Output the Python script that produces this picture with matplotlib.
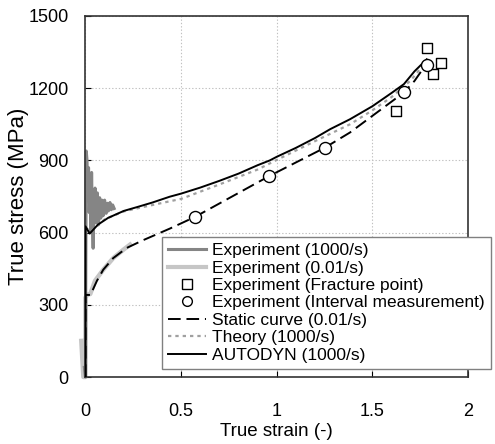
import matplotlib
matplotlib.use("Agg")
import matplotlib.pyplot as plt
from matplotlib.lines import Line2D

plt.rcParams['font.family'] = ['Liberation Sans', 'DejaVu Sans']

# Experiment (1000/s)
exp_fast_x = [-0.006, 0.0, 0.002, 0.004, 0.008, 0.012, 0.016, 0.02, 0.024, 0.028, 0.032, 0.036,
              0.04, 0.044, 0.05, 0.056, 0.062, 0.068, 0.074, 0.08, 0.086, 0.092, 0.1, 0.108,
              0.114, 0.12, 0.128, 0.135, 0.142, 0.15]
exp_fast_y = [40, 0, 500, 939, 900, 760, 870, 683, 800, 600, 850, 640,
              535, 700, 785, 640, 765, 633, 745, 660, 735, 670, 735, 680,
              722, 690, 725, 695, 715, 700]

# Experiment (0.01/s)
exp_static_x = [-0.022, -0.011, 0.0, 0.0, 0.01, 0.025, 0.05, 0.093, 0.145, 0.2, 0.233]
exp_static_y = [150, 0, 0, 330, 342, 345, 400, 446, 494, 530, 550]

# Experiment (Fracture point)
frac_x = [1.787, 1.857, 1.817, 1.626]
frac_y = [1366, 1303, 1260, 1105]

# Experiment (Interval measurement)
interval_x = [0.572, 0.961, 1.252, 1.666, 1.786]
interval_y = [665, 835, 953, 1183, 1295]

# Static curve (0.01/s)
static_x = [0.0, 0.0, 0.026, 0.06, 0.093, 0.145, 0.215, 0.3, 0.442, 0.572, 0.961, 1.252,
            1.383, 1.5, 1.666, 1.72, 1.786]
static_y = [0, 341, 341, 400, 446, 494, 536, 568, 617, 665, 835, 953,
            1016, 1085, 1183, 1230, 1305]

# Theory (1000/s)
theory_x = [0.0, 0.03, 0.065, 0.1, 0.2, 0.3, 0.44, 0.5, 0.7, 0.9, 1.0, 1.2, 1.383, 1.5,
            1.6, 1.7, 1.77]
theory_y = [620, 605, 630, 655, 688, 706, 730, 740, 800, 862, 902, 980, 1050, 1108,
            1163, 1232, 1300]

# AUTODYN (1000/s)
autodyn_x = [0.0, 0.0, 0.022, 0.065, 0.118, 0.2, 0.274, 0.35, 0.44, 0.5, 0.6, 0.7, 0.8,
             0.9, 0.964, 1.0, 1.1, 1.2, 1.28, 1.383, 1.5, 1.6, 1.665, 1.72, 1.784]
autodyn_y = [0, 626, 596, 633, 661, 690, 707, 725, 749, 762, 787, 815, 845,
             880, 900, 915, 952, 993, 1030, 1071, 1125, 1180, 1217, 1270, 1320]

x_ticks = [0, 0.5, 1, 1.5, 2]
x_tick_labels = ['0', '0.5', '1', '1.5', '2']
y_ticks = [0, 300, 600, 900, 1200, 1500]

fig = plt.figure(figsize=(4.95, 4.44), dpi=100)
ax = fig.add_axes([0.1727, 0.1509, 0.9455 - 0.1727, 0.964 - 0.1509])

ax.grid(True, color='#c0c0c0', linestyle=(0, (1.2, 1.8)), linewidth=0.8)
ax.set_axisbelow(True)

ax.plot(exp_static_x, exp_static_y, color='#c6c6c6', lw=3.2, clip_on=False, zorder=2)
ax.plot(exp_fast_x, exp_fast_y, color='#858585', lw=2.2, clip_on=False, zorder=2)
ax.plot(theory_x, theory_y, color='#a0a0a0', lw=1.6, dashes=(1.5, 1.8), zorder=3)
ax.plot(static_x, static_y, color='black', lw=1.4, dashes=(6.5, 3.0), zorder=4)
ax.plot(autodyn_x, autodyn_y, color='black', lw=1.4, zorder=5)
ax.scatter(frac_x, frac_y, marker='s', s=55, facecolor='white', edgecolor='black',
           linewidth=1.0, zorder=6)
ax.scatter(interval_x, interval_y, marker='o', s=75, facecolor='white', edgecolor='black',
           linewidth=1.0, zorder=6)

ax.set_xlim(0, 2)
ax.set_ylim(0, 1500)
ax.set_xticks(x_ticks)
ax.set_xticklabels(x_tick_labels)
ax.set_yticks(y_ticks)
ax.tick_params(direction='in', length=4, labelsize=13, colors='black')
ax.tick_params(axis='x', pad=19)
ax.tick_params(axis='y', pad=12)
for s in ax.spines.values():
    s.set_color('#333333')
    s.set_linewidth(1.2)

ax.set_xlabel('True strain (-)', fontsize=13.5, labelpad=2)
ax.set_ylabel('True stress (MPa)', fontsize=16, labelpad=0)

handles = [
    Line2D([], [], color='#858585', lw=2.2),
    Line2D([], [], color='#c6c6c6', lw=3.0),
    Line2D([], [], marker='s', markersize=7, markerfacecolor='white',
           markeredgecolor='black', linestyle='none', markeredgewidth=1.0),
    Line2D([], [], marker='o', markersize=7, markerfacecolor='white',
           markeredgecolor='black', linestyle='none', markeredgewidth=1.0),
    Line2D([], [], color='black', lw=1.4, dashes=(6.5, 3.0)),
    Line2D([], [], color='#a0a0a0', lw=1.6, dashes=(1.5, 1.8)),
    Line2D([], [], color='black', lw=1.4),
]
labels = ['Experiment (1000/s)', 'Experiment (0.01/s)', 'Experiment (Fracture point)',
          'Experiment (Interval measurement)', 'Static curve (0.01/s)', 'Theory (1000/s)',
          'AUTODYN (1000/s)']
leg = ax.legend(handles, labels, loc='upper left', bbox_to_anchor=(162 / 495, 1 - 237 / 444),
                bbox_transform=fig.transFigure, fontsize=12.5, frameon=True, fancybox=False,
                framealpha=1, edgecolor='#808080', borderpad=0.35, labelspacing=0.13,
                handlelength=2.2, handletextpad=0.35, borderaxespad=0)
leg.get_frame().set_linewidth(1.0)
leg.set_zorder(10)

fig.savefig('out.png', dpi=100)
